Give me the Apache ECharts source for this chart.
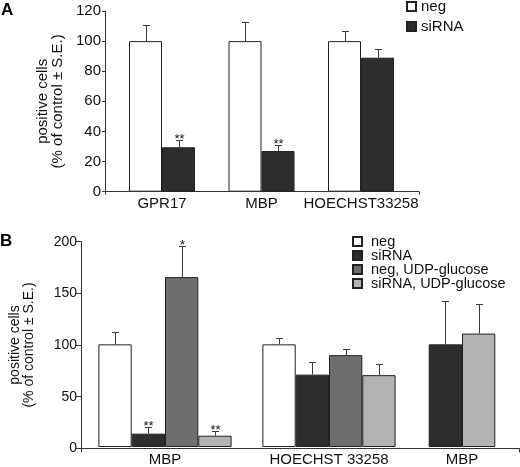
<!DOCTYPE html>
<html><head><meta charset="utf-8">
<script src="https://cdn.jsdelivr.net/npm/echarts@6/dist/echarts.min.js"></script>
<style>html,body{margin:0;padding:0;background:#fff}#c{width:520px;height:467px}</style>
</head><body><div id="c"></div>
<script>
// ---------- Panel A data ----------
const catsA = ['GPR17', 'MBP', 'HOECHST33258'];
const negA = [100, 100, 100];
const negAErr = [11, 13, 7];
const negASig = ['', '', ''];
const sirnaA = [29.5, 27, 89];
const sirnaAErr = [5, 4, 6];
const sirnaASig = ['**', '**', ''];
const ticksA = [0, 20, 40, 60, 80, 100, 120];

// ---------- Panel B data ----------
const catsB = ['MBP', 'HOECHST 33258', 'MBP'];
const negB = [100, 100, null];
const negBErr = [12, 6, null];
const negBSig = ['', '', ''];
const sirnaB = [13, 70.5, 100];
const sirnaBErr = [6, 12, 42];
const sirnaBSig = ['**', '', ''];
const negUdpB = [165.5, 89.5, null];
const negUdpBErr = [30, 6, null];
const negUdpBSig = ['*', '', ''];
const sirnaUdpB = [11, 70, 110.5];
const sirnaUdpBErr = [4.5, 11, 28.5];
const sirnaUdpBSig = ['**', '', ''];
const ticksB = [0, 50, 100, 150, 200];

const FONT = '"Liberation Sans", Arial, Helvetica, sans-serif';
const AX = '#333';
const TXT = '#111';
const COLORS = { 'neg': '#ffffff', 'siRNA': '#2d2d2d', 'neg, UDP-glucose': '#6e6e6e', 'siRNA, UDP-glucose': '#b3b3b3' };

const chart = echarts.init(document.getElementById('c'), null, { renderer: 'canvas' });

const grids = [
  { left: 105, top: 11, width: 314, height: 180.7 },      // 0 A axes
  { left: 112.25, top: 11, width: 298.5, height: 180.7 }, // 1 A bars
  { left: 72.7, top: 241.7, width: 446.3, height: 206.6 },// 2 B axes
  { left: 83, top: 241.7, width: 328, height: 206.6 },    // 3 B bars (first two groups)
  { left: 412, top: 241.7, width: 100, height: 206.6 }    // 4 B bars (third group)
];

function decoX(gi, tickLen) {
  return { type: 'category', gridIndex: gi, data: [''],
    axisLine: { show: true, lineStyle: { color: AX, width: 1 } },
    axisTick: { show: true, length: tickLen, lineStyle: { color: AX } },
    axisLabel: { show: false }, splitLine: { show: false } };
}
function dataX(gi, cats, fs) {
  return { type: 'category', gridIndex: gi, data: cats,
    axisLine: { show: false }, axisTick: { show: false },
    axisLabel: { show: true, fontSize: fs, fontFamily: FONT, color: TXT, margin: 5, interval: 0 },
    splitLine: { show: false } };
}
function decoY(gi, ticks, tickLen, fs, gap, lh) {
  return { type: 'value', gridIndex: gi, min: ticks[0], max: ticks[ticks.length - 1],
    interval: ticks[1] - ticks[0],
    name: 'positive cells\n(% of control \u00b1 S.E.)', nameLocation: 'middle', nameGap: gap,
    nameTextStyle: { fontSize: fs, fontFamily: FONT, color: TXT, lineHeight: lh },
    axisLine: { show: true, lineStyle: { color: AX, width: 1 } },
    axisTick: { show: true, length: tickLen, lineStyle: { color: AX } },
    axisLabel: { fontSize: fs, fontFamily: FONT, color: TXT, margin: 4 },
    splitLine: { show: false } };
}
function hidY(gi, ticks) {
  return { type: 'value', gridIndex: gi, min: ticks[0], max: ticks[ticks.length - 1], show: false,
    splitLine: { show: false } };
}

const series = [];
function addGroup(xi, name, vals, errs, sigs, slot, n, bw, catOffset) {
  series.push({
    type: 'bar', name: name, xAxisIndex: xi, yAxisIndex: xi,
    data: vals, barWidth: bw, barGap: '0%',
    itemStyle: { color: COLORS[name], borderColor: '#222', borderWidth: 1 },
    emphasis: { disabled: true }, animation: false
  });
  const data = [];
  const sg = [];
  vals.forEach((v, i) => {
    if (v != null) { data.push([i, v, errs[i]]); sg.push(sigs[i + catOffset] || ''); }
  });
  series.push({
    type: 'custom', name: name + ' err', xAxisIndex: xi, yAxisIndex: xi, z: 5,
    data: data, animation: false, silent: true,
    renderItem: function (params, api) {
      const c = api.value(0), v = api.value(1), e = api.value(2);
      const p0 = api.coord([c, v]);
      const p1 = api.coord([c, v + e]);
      const x = Math.round(p0[0] + (slot - (n - 1) / 2) * bw) + 0.5;
      const yt = Math.round(p1[1]) + 0.5;
      const children = [
        { type: 'line', shape: { x1: x, y1: p0[1], x2: x, y2: yt }, style: { stroke: '#3a3a3a', lineWidth: 1 } },
        { type: 'line', shape: { x1: x - 3.5, y1: yt, x2: x + 3.5, y2: yt }, style: { stroke: '#3a3a3a', lineWidth: 1 } }
      ];
      const s = sg[params.dataIndex];
      if (s) {
        children.push({ type: 'text', style: { text: s, x: x, y: yt + 5, align: 'center', verticalAlign: 'bottom',
          fontSize: 13, fontFamily: FONT, fill: TXT } });
      }
      return { type: 'group', children: children };
    }
  });
}

// Panel A
const BWA = 33;
addGroup(1, 'neg', negA, negAErr, negASig, 0, 2, BWA, 0);
addGroup(1, 'siRNA', sirnaA, sirnaAErr, sirnaASig, 1, 2, BWA, 0);

// Panel B – first two groups
const BWB = 33.3;
const seriesB = [
  ['neg', negB, negBErr, negBSig],
  ['siRNA', sirnaB, sirnaBErr, sirnaBSig],
  ['neg, UDP-glucose', negUdpB, negUdpBErr, negUdpBSig],
  ['siRNA, UDP-glucose', sirnaUdpB, sirnaUdpBErr, sirnaUdpBSig]
];
seriesB.forEach((s, k) => addGroup(3, s[0], s[1].slice(0, 2), s[2].slice(0, 2), s[3], k, 4, BWB, 0));
// Panel B – third group (only series with values)
const third = seriesB.filter(s => s[1][2] != null);
third.forEach((s, k) => addGroup(4, s[0], s[1].slice(2), s[2].slice(2), s[3], k, third.length, BWB, 2));

const option = {
  animation: false,
  backgroundColor: '#fff',
  title: [
    { text: 'A', left: 1, top: 2, padding: 0, textStyle: { fontSize: 17, fontWeight: 'bold', fontFamily: FONT, color: '#000' } },
    { text: 'B', left: 0, top: 232.5, padding: 0, textStyle: { fontSize: 17, fontWeight: 'bold', fontFamily: FONT, color: '#000' } }
  ],
  legend: [
    { orient: 'vertical', left: 406, top: -1, padding: 0, itemWidth: 9, itemHeight: 9, itemGap: 5, icon: 'rect',
      data: ['neg', 'siRNA'], selectedMode: false,
      textStyle: { fontSize: 15, fontFamily: FONT, color: TXT, lineHeight: 15 } },
    { orient: 'vertical', left: 352, top: 234, padding: 0, itemWidth: 9, itemHeight: 9, itemGap: -1, icon: 'rect',
      data: ['neg', 'siRNA', 'neg, UDP-glucose', 'siRNA, UDP-glucose'], selectedMode: false,
      textStyle: { fontSize: 14.5, fontFamily: FONT, color: TXT, lineHeight: 13.3, padding: [0, 0, 0, 4] } }
  ],
  grid: grids,
  xAxis: [
    decoX(0, 3),
    dataX(1, catsA, 15),
    decoX(2, 4),
    dataX(3, catsB.slice(0, 2), 15),
    dataX(4, catsB.slice(2), 15)
  ],
  yAxis: [
    decoY(0, ticksA, 3, 15, 39, 15),
    hidY(1, ticksA),
    decoY(2, ticksB, 5, 14, 45, 14),
    hidY(3, ticksB),
    hidY(4, ticksB)
  ],
  series: series
};
chart.setOption(option);
</script>
</body></html>
